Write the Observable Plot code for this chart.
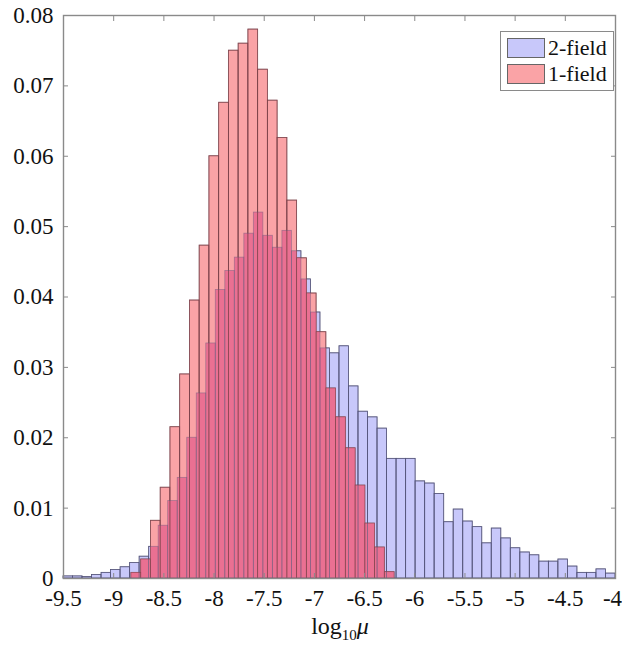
<!DOCTYPE html>
<html>
<head>
<meta charset="utf-8">
<script src="https://cdn.jsdelivr.net/npm/d3@7"></script>
<script src="https://cdn.jsdelivr.net/npm/@observablehq/plot@0.6"></script>
<style>
  body { margin: 0; background: #fff; }
  #wrap { position: relative; width: 622px; height: 650px; font-family: "Liberation Serif", "Times New Roman", "DejaVu Serif", serif; }
  #chart svg text { font-family: "Liberation Serif", "Times New Roman", "DejaVu Serif", serif; }
  #legend { position: absolute; left: 500px; top: 31px; width: 114px; height: 60px; border: 1px solid #8a8a8a; background: #fff; box-sizing: border-box; }
  .row { position: absolute; left: 6px; display: flex; align-items: center; font-size: 22px; line-height: 22px; color: #111; }
  .sw { width: 38px; height: 20px; box-sizing: border-box; border: 1px solid #666; margin-right: 3px; }
  #xlabel { position: absolute; left: 0; width: 622px; top: 613px; text-align: center; font-size: 24px; color: #111; padding-left: 58px; box-sizing: border-box; }
</style>
</head>
<body>
<div id="wrap">
  <div id="chart"></div>
  <div id="legend"></div>
  <div id="xlabel">log<sub style="font-size:15px">10</sub><i>μ</i></div>
</div>
<script>
// Series names
const seriesNames = ["2-field", "1-field"];

// 2-field histogram: 58 bins spanning -9.5 .. -4
const blueStart = -9.5;
const blueEnd = -4;
const blueValues = [
  0.0003, 0.0003, 0.0002, 0.0005, 0.0008, 0.0012, 0.0016, 0.0022, 0.0031, 0.0045,
  0.0075, 0.0110, 0.0143, 0.0200, 0.0263, 0.0334, 0.0410, 0.0437, 0.0456, 0.0490,
  0.0520, 0.0487, 0.0470, 0.0494, 0.0465, 0.0425, 0.0378, 0.0327, 0.0320, 0.0330,
  0.0273, 0.0237, 0.0229, 0.0213, 0.0170, 0.0170, 0.0170, 0.0138, 0.0135, 0.0120,
  0.0080, 0.0098, 0.0081, 0.0073, 0.0050, 0.0071, 0.0057, 0.0043, 0.0037, 0.0033,
  0.0024, 0.0024, 0.0027, 0.0017, 0.0008, 0.0008, 0.0013, 0.0007
];

// 1-field histogram: 27 bins starting at -8.823
const redStart = -8.823;
const redWidth = 0.0971;
const redValues = [
  0.0008, 0.0027, 0.0082, 0.0129, 0.0215, 0.0290, 0.0395, 0.0473, 0.0600, 0.0676,
  0.0750, 0.0760, 0.0780, 0.0723, 0.0679, 0.0626, 0.0537, 0.0455, 0.0405, 0.0350,
  0.0270, 0.0229, 0.0185, 0.0132, 0.0078, 0.0044, 0.0009
];

// Tick labels
const xTicks = [-9.5, -9, -8.5, -8, -7.5, -7, -6.5, -6, -5.5, -5, -4.5, -4];
const yTicks = [0, 0.01, 0.02, 0.03, 0.04, 0.05, 0.06, 0.07, 0.08];

const colors = {
  fillBlue: "rgb(200,200,250)", strokeBlue: "#55557a",
  fillRed: "rgb(250,163,166)", strokeRed: "#7a4048",
  fillBoth: "rgb(234,112,146)"
};

const blueWidth = (blueEnd - blueStart) / blueValues.length;
const blueBins = blueValues.map((v, i) => ({ x1: blueStart + i * blueWidth, x2: blueStart + (i + 1) * blueWidth, y: v }));
const redBins = redValues.map((v, i) => ({ x1: redStart + i * redWidth, x2: redStart + (i + 1) * redWidth, y: v }));

// Region where both histograms overlap (min of the two step functions)
function stepAt(bins, x) {
  const b = bins.find(d => x >= d.x1 && x < d.x2);
  return b ? b.y : 0;
}
const edges = Array.from(new Set([...blueBins.flatMap(d => [d.x1, d.x2]), ...redBins.flatMap(d => [d.x1, d.x2])])).sort((a, b) => a - b);
const bothBins = [];
for (let i = 0; i < edges.length - 1; i++) {
  const m = (edges[i] + edges[i + 1]) / 2;
  const y = Math.min(stepAt(blueBins, m), stepAt(redBins, m));
  if (y > 0) bothBins.push({ x1: edges[i], x2: edges[i + 1], y });
}

const fmtX = d => String(d);
const fmtY = d => d === 0 ? "0" : d.toFixed(2);
const FONT = "'Liberation Serif', 'Times New Roman', 'DejaVu Serif', serif";
const lastTick = xTicks[xTicks.length - 1];

const chart = Plot.plot({
  width: 622,
  height: 618,
  marginLeft: 63,
  marginRight: 7,
  marginTop: 15,
  marginBottom: 40,
  style: { fontFamily: FONT, fontSize: "23px", color: "#111", background: "#fff" },
  x: { domain: [-9.5, -4] },
  y: { domain: [0, 0.08] },
  marks: [
    Plot.rectY(blueBins, { x1: "x1", x2: "x2", y: "y", fill: colors.fillBlue, stroke: colors.strokeBlue, strokeWidth: 0.8 }),
    Plot.rectY(redBins, { x1: "x1", x2: "x2", y: "y", fill: colors.fillRed, stroke: colors.strokeRed, strokeWidth: 0.8, strokeOpacity: 0.85 }),
    Plot.rectY(bothBins, { x1: "x1", x2: "x2", y: "y", fill: colors.fillBoth }),
    Plot.rectY(redBins, { x1: "x1", x2: "x2", y: "y", fill: "none", stroke: colors.strokeRed, strokeWidth: 0.8, strokeOpacity: 0.6 }),
    Plot.rectY(blueBins, { x1: "x1", x2: "x2", y: "y", fill: "none", stroke: colors.strokeBlue, strokeWidth: 0.8, strokeOpacity: 0.45 }),
    Plot.frame({ stroke: "#8a8a8a", strokeWidth: 1.4 }),
    // tick labels
    Plot.axisX(xTicks.filter(d => d !== lastTick), { tickSize: 0, tickPadding: 11, tickFormat: fmtX, label: null, fontSize: 23 }),
    Plot.axisX([lastTick], { tickSize: 0, tickPadding: 11, tickFormat: fmtX, label: null, fontSize: 23, dx: -3 }),
    Plot.axisY(yTicks, { tickSize: 0, tickPadding: 10, tickFormat: fmtY, label: null, fontSize: 23 }),
    // inward ticks on all four sides
    Plot.axisX(xTicks, { anchor: "bottom", tickSize: -5, tickFormat: () => "", label: null, stroke: "#8a8a8a" }),
    Plot.axisX(xTicks, { anchor: "top", tickSize: -5, tickFormat: () => "", label: null, stroke: "#8a8a8a" }),
    Plot.axisY(yTicks, { anchor: "left", tickSize: -5, tickFormat: () => "", label: null, stroke: "#8a8a8a" }),
    Plot.axisY(yTicks, { anchor: "right", tickSize: -5, tickFormat: () => "", label: null, stroke: "#8a8a8a" })
  ]
});
document.getElementById("chart").appendChild(chart);

// Legend
const legend = document.getElementById("legend");
const legendFills = [colors.fillBlue, colors.fillRed];
seriesNames.forEach((name, i) => {
  const row = document.createElement("div");
  row.className = "row";
  row.style.top = (5 + i * 26) + "px";
  row.innerHTML = `<div class="sw" style="background:${legendFills[i]}"></div><span>${name}</span>`;
  legend.appendChild(row);
});
</script>
</body>
</html>
